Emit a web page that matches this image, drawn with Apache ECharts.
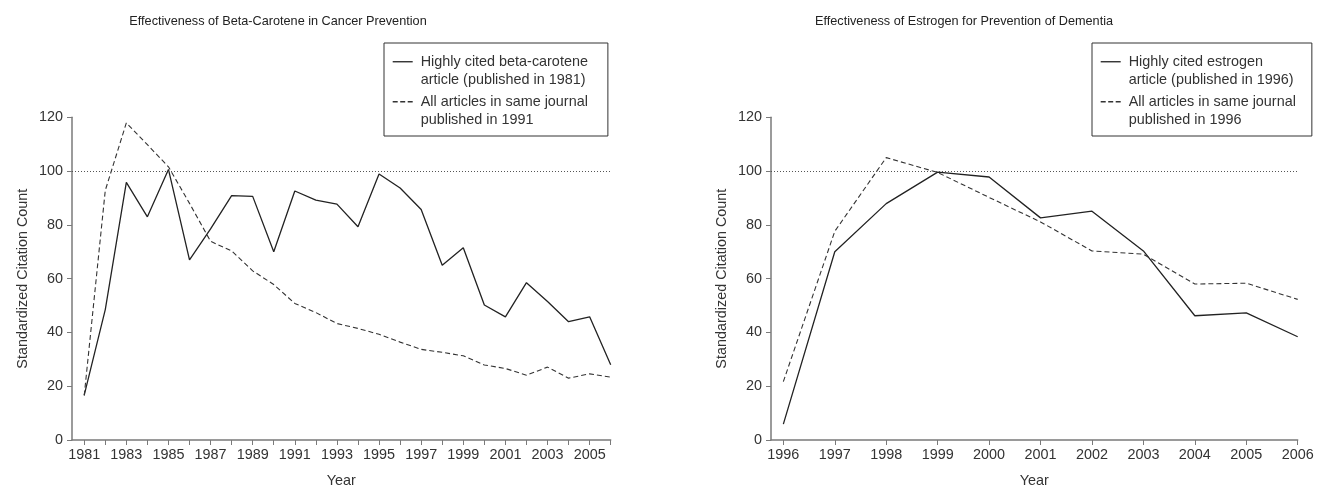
<!DOCTYPE html>
<html>
<head>
<meta charset="utf-8">
<script src="https://cdn.jsdelivr.net/npm/echarts@6/dist/echarts.min.js"></script>
<style>
html, body { margin: 0; padding: 0; background: #fff; }
#chart { width: 1329px; height: 487px; }
</style>
</head>
<body>
<div id="chart"></div>
<script>
// left panel: beta-carotene
var betaYears = [1981, 1982, 1983, 1984, 1985, 1986, 1987, 1988, 1989, 1990, 1991, 1992, 1993,
  1994, 1995, 1996, 1997, 1998, 1999, 2000, 2001, 2002, 2003, 2004, 2005, 2006];
var betaArticle = [16.7, 48.5, 95.8, 83, 100.6, 67, 78.5, 90.9, 90.6, 70, 92.6, 89.2, 87.7,
  79.3, 98.9, 93.7, 85.7, 65, 71.5, 50.2, 45.8, 58.5, 51.5, 44, 45.8, 28];
var betaJournal = [16.5, 92.8, 117.9, 109.8, 101.6, 88, 73.9, 70.3, 62.9, 57.8, 50.8, 47.4, 43.3,
  41.5, 39.3, 36.4, 33.7, 32.6, 31.3, 27.9, 26.6, 24.1, 27.1, 23, 24.6, 23.4];
var betaLabelYears = [1981, 1983, 1985, 1987, 1989, 1991, 1993, 1995, 1997, 1999, 2001, 2003, 2005];

// right panel: estrogen
var estroYears = [1996, 1997, 1998, 1999, 2000, 2001, 2002, 2003, 2004, 2005, 2006];
var estroArticle = [5.9, 70, 87.9, 99.6, 97.8, 82.6, 85.1, 70.3, 46.2, 47.3, 38.4];
var estroJournal = [21.7, 77.6, 105, 99.5, 90.2, 81.1, 70.3, 69.1, 58, 58.3, 52.3];

var yMin = 0, yMax = 120, yStep = 20;
var refLevel = 100;

var titles = ['Effectiveness of Beta-Carotene in Cancer Prevention',
  'Effectiveness of Estrogen for Prevention of Dementia'];
var betaNames = ['Highly cited beta-carotene\narticle (published in 1981)',
  'All articles in same journal\npublished in 1991'];
var estroNames = ['Highly cited estrogen\narticle (published in 1996)',
  'All articles in same journal\npublished in 1996'];

function pairs(xs, ys) {
  return xs.map(function (x, i) { return [x, ys[i]]; });
}

var FONT = 'Liberation Sans, Arial, Helvetica, sans-serif';
var TXT = '#333';
var AXIS = '#7a7a7a';
var LH = 18.5;
// legend keys: a solid stroke and three dashes
var SOLID_ICON = 'path://M0,0h20v1.3h-20z';
var DASH_ICON = 'path://M0,0h5v1.3h-5z M7.5,0h5v1.3h-5z M15,0h5v1.3h-5z';

function xAxisFor(idx, min, years, labels) {
  return {
    gridIndex: idx, type: 'value', min: min, max: years[years.length - 1],
    name: 'Year', nameLocation: 'middle', nameGap: 34,
    nameTextStyle: { fontFamily: FONT, fontSize: 14.4, color: TXT },
    axisLine: { lineStyle: { color: AXIS, width: 1.5 } },
    axisTick: { customValues: years, length: 5, lineStyle: { color: AXIS, width: 1 } },
    axisLabel: { customValues: labels, margin: 8, fontFamily: FONT, fontSize: 14.4, color: TXT,
      formatter: function (v) { return String(v); } },
    splitLine: { show: false }
  };
}

function yAxisFor(idx) {
  return {
    gridIndex: idx, type: 'value', min: yMin, max: yMax, interval: yStep,
    name: 'Standardized Citation Count', nameLocation: 'middle', nameGap: 42,
    nameTextStyle: { fontFamily: FONT, fontSize: 14.4, color: TXT },
    axisLine: { show: true, lineStyle: { color: AXIS, width: 1.5 } },
    axisTick: { show: true, length: 5, lineStyle: { color: AXIS, width: 1 } },
    axisLabel: { margin: 9, fontFamily: FONT, fontSize: 14.4, color: TXT },
    splitLine: { show: false }
  };
}

function seriesFor(idx, name, xs, ys, dashed, withRef) {
  var s = {
    type: 'line', name: name, xAxisIndex: idx, yAxisIndex: idx,
    data: pairs(xs, ys), symbol: 'none', showSymbol: false, silent: true,
    lineStyle: dashed ? { color: '#333', width: 1.1, type: [5, 3] } : { color: '#222', width: 1.3 },
    itemStyle: { color: dashed ? '#333' : '#222' }
  };
  if (withRef) {
    s.markLine = {
      silent: true, symbol: 'none', label: { show: false },
      lineStyle: { color: '#555', width: 1, type: [1, 2] },
      data: [{ yAxis: refLevel }]
    };
  }
  return s;
}

function legendFor(names, left, padRight) {
  return {
    data: [
      { name: names[0], icon: SOLID_ICON },
      { name: names[1], icon: DASH_ICON }
    ],
    orient: 'vertical', left: left, top: 43,
    padding: [-9, padRight, 6.5, 8.7], itemGap: -15.5,
    itemWidth: 20, itemHeight: 14, symbolKeepAspect: true,
    itemStyle: { borderWidth: 0 },
    borderColor: '#333', borderWidth: 1, backgroundColor: '#fff',
    selectedMode: false,
    // empty first line keeps the key level with the first line of text
    formatter: function (name) { return '\n' + name; },
    textStyle: { fontFamily: FONT, fontSize: 14.4, color: TXT, lineHeight: LH, padding: [0, 0, 0, 3] }
  };
}

var chart = echarts.init(document.getElementById('chart'));
chart.setOption({
  animation: false,
  backgroundColor: '#fff',
  title: [
    { text: titles[0], left: 273, top: 10, textAlign: 'center',
      textStyle: { fontFamily: FONT, fontSize: 12.7, fontWeight: 'normal', color: '#222' } },
    { text: titles[1], left: 959, top: 10, textAlign: 'center',
      textStyle: { fontFamily: FONT, fontSize: 12.7, fontWeight: 'normal', color: '#222' } }
  ],
  legend: [legendFor(betaNames, 384, 20), legendFor(estroNames, 1092, 16)],
  grid: [
    { left: 72, right: 718.3, top: 117.3, bottom: 47, outerBoundsMode: 'none' },
    { left: 771, right: 31.3, top: 117.3, bottom: 47, outerBoundsMode: 'none' }
  ],
  xAxis: [
    xAxisFor(0, 1980.42, betaYears, betaLabelYears),
    xAxisFor(1, 1995.76, estroYears, estroYears)
  ],
  yAxis: [yAxisFor(0), yAxisFor(1)],
  series: [
    seriesFor(0, betaNames[0], betaYears, betaArticle, false, true),
    seriesFor(0, betaNames[1], betaYears, betaJournal, true, false),
    seriesFor(1, estroNames[0], estroYears, estroArticle, false, true),
    seriesFor(1, estroNames[1], estroYears, estroJournal, true, false)
  ]
});
</script>
</body>
</html>
